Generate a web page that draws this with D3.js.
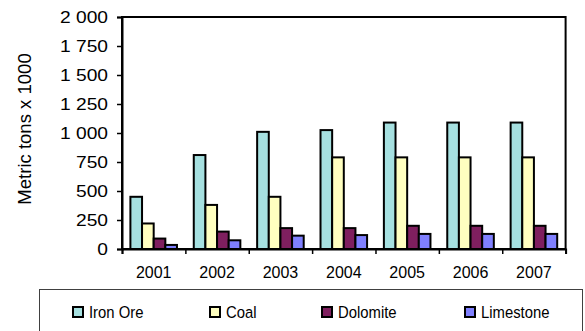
<!DOCTYPE html>
<html>
<head>
<meta charset="utf-8">
<script src="https://cdnjs.cloudflare.com/ajax/libs/d3/7.8.5/d3.min.js"></script>
<style>
  html, body { margin: 0; padding: 0; background: #fff; }
  svg { display: block; font-family: "Liberation Sans", Arial, sans-serif; }
</style>
</head>
<body>
<svg id="chart" width="585" height="331"></svg>
<script>
// Annual tonnage by material (thousands of metric tons)
const years = ["2001", "2002", "2003", "2004", "2005", "2006", "2007"];
const seriesNames = ["Iron Ore", "Coal", "Dolomite", "Limestone"];
const ironOre   = [450, 810, 1010, 1025, 1090, 1090, 1090];
const coal      = [220, 380, 450, 790, 790, 790, 790];
const dolomite  = [90, 150, 180, 180, 200, 200, 200];
const limestone = [35, 75, 115, 120, 130, 130, 130];
const yTicks    = [0, 250, 500, 750, 1000, 1250, 1500, 1750, 2000];
const colors    = ["#a6e0e0", "#ffffc0", "#7f1f5f", "#8080ff"];

const seriesValues = [ironOre, coal, dolomite, limestone];

const svg = d3.select("#chart");
const plot = { left: 122, right: 565.6, top: 17, bottom: 249 };

const x0 = d3.scaleBand().domain(years).range([plot.left, plot.right]);
const cw = x0.bandwidth();
const x1 = d3.scaleBand().domain(seriesNames).range([8.4, cw - 8.4]);
const y = d3.scaleLinear().domain([0, 2000]).range([plot.bottom, plot.top]);
const color = d3.scaleOrdinal().domain(seriesNames).range(colors);

// Rescale glyphs around their anchor point
function reshape(textSel, sx, sy) {
  textSel.each(function () {
    const t = d3.select(this);
    const xv = +t.attr("x") || 0;
    const yv = +t.attr("y") || 0;
    t.attr("x", xv / sx).attr("y", yv / sy).attr("transform", `scale(${sx},${sy})`);
  });
}

// Plot frame
svg.append("rect")
  .attr("x", plot.left).attr("y", plot.top)
  .attr("width", plot.right - plot.left).attr("height", plot.bottom - plot.top)
  .attr("fill", "none").attr("stroke", "#000").attr("stroke-width", 2);

// Bars
const groups = svg.append("g").selectAll("g")
  .data(years)
  .join("g")
  .attr("transform", d => `translate(${x0(d)},0)`);

groups.selectAll("rect")
  .data((d, i) => seriesNames.map((s, k) => ({ s, v: seriesValues[k][i] })))
  .join("rect")
  .attr("x", d => x1(d.s))
  .attr("width", x1.bandwidth())
  .attr("y", d => y(d.v))
  .attr("height", d => y(0) - y(d.v))
  .attr("fill", d => color(d.s))
  .attr("stroke", "#000")
  .attr("stroke-width", 2);

// Y axis
const yAxis = svg.append("g")
  .attr("transform", `translate(${plot.left},0)`)
  .call(d3.axisLeft(y).tickValues(yTicks).tickSize(5).tickPadding(9)
    .tickFormat(d => d3.format(",")(d).replace(/,/g, " ")));
yAxis.select(".domain").attr("stroke-width", 2);
yAxis.selectAll(".tick line").attr("stroke-width", 1.5);
yAxis.selectAll("text").attr("font-size", 16).attr("fill", "#000")
  .attr("font-family", "'Liberation Sans', Arial, sans-serif");
reshape(yAxis.selectAll("text"), 1.2, 1);

// X axis: ticks sit on category boundaries, labels centred in each category
const xEdge = d3.scaleLinear().domain([0, years.length]).range([plot.left, plot.right]);
const xAxis = svg.append("g")
  .attr("transform", `translate(0,${plot.bottom})`)
  .call(d3.axisBottom(xEdge).tickValues(d3.range(0, years.length + 1)).tickSize(5).tickFormat(""));
xAxis.select(".domain").attr("stroke-width", 2);
xAxis.selectAll(".tick line").attr("stroke-width", 1.5);

svg.append("g").selectAll("text")
  .data(years)
  .join("text")
  .attr("x", d => x0(d) + cw / 2)
  .attr("y", 278)
  .attr("text-anchor", "middle")
  .attr("font-size", 16)
  .text(d => d);

// Y axis title
svg.append("text")
  .attr("transform", "translate(31,129) rotate(-90) scale(1.09,1.05)")
  .attr("text-anchor", "middle")
  .attr("font-size", 17)
  .text("Metric tons x 1000");

// Legend
const legend = svg.append("g");
legend.append("rect")
  .attr("x", 39.5).attr("y", 289.5).attr("width", 543).attr("height", 60)
  .attr("fill", "#fff").attr("stroke", "#404040").attr("stroke-width", 1);

const legendX = [73, 210, 322, 465];
const items = legend.selectAll("g.item")
  .data(seriesNames)
  .join("g")
  .attr("class", "item")
  .attr("transform", (d, i) => `translate(${legendX[i]},307)`);
items.append("rect")
  .attr("width", 10).attr("height", 10)
  .attr("fill", d => color(d)).attr("stroke", "#000").attr("stroke-width", 2);
const legendText = items.append("text")
  .attr("x", 16).attr("y", 11)
  .attr("font-size", 16.5)
  .text(d => d);
reshape(legendText, 0.9, 1);
</script>
</body>
</html>
